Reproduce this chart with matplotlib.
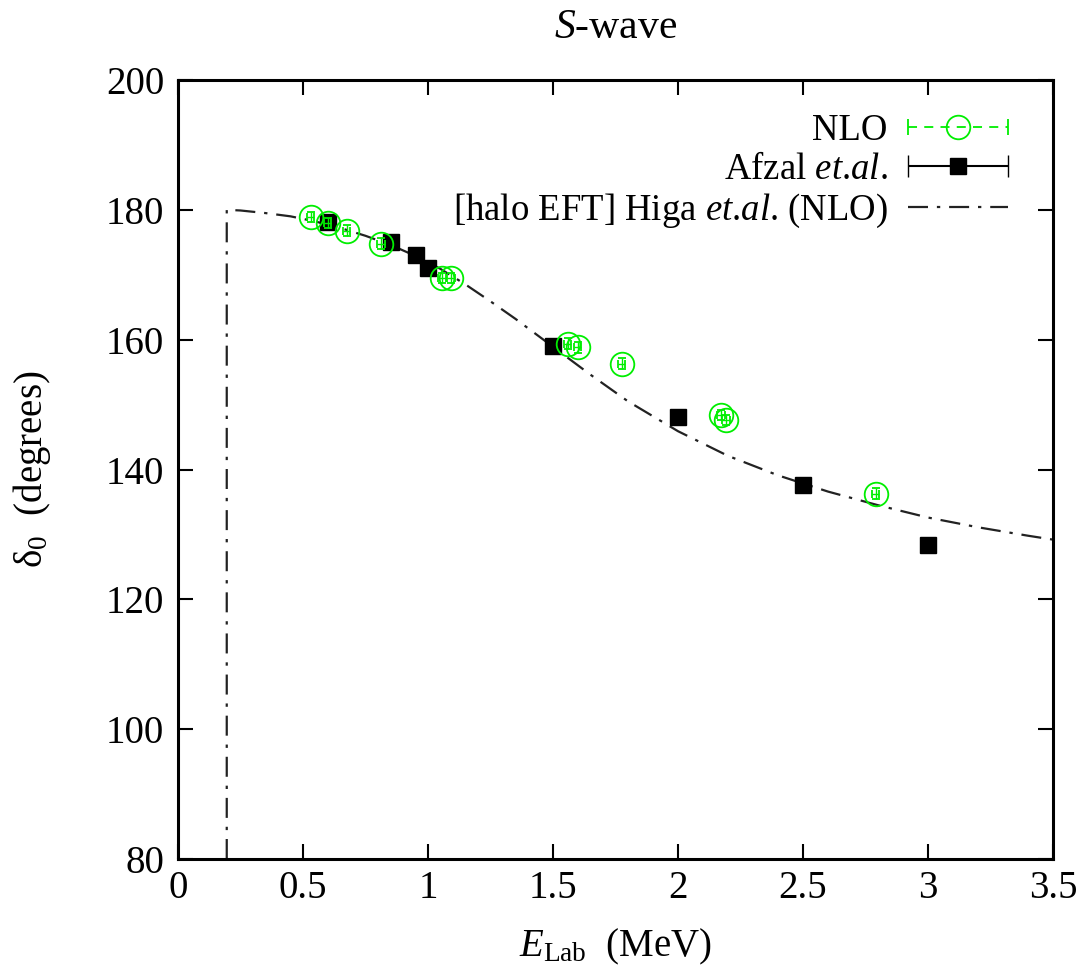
import numpy as np
import matplotlib
matplotlib.use("Agg")
import matplotlib.pyplot as plt
from matplotlib.legend_handler import HandlerErrorbar

plt.rcParams['font.family'] = ['Liberation Serif', 'DejaVu Serif']
plt.rcParams['mathtext.fontset'] = 'custom'
plt.rcParams['mathtext.rm'] = 'Liberation Serif'
plt.rcParams['mathtext.it'] = 'Liberation Serif:italic'
plt.rcParams['mathtext.bf'] = 'Liberation Serif:bold'

# NLO phase shifts
nlo_e = [0.53, 0.598, 0.674, 0.811, 1.056, 1.092, 1.558, 1.598, 1.774, 2.172, 2.192, 2.79]
nlo_d = [178.9, 178.0, 176.8, 174.8, 169.5, 169.5, 159.4, 158.8, 156.3, 148.4, 147.6, 136.3]
nlo_de = 0.015
nlo_dd = 0.8

# Afzal et al. data
afz_e = [0.6, 0.85, 0.95, 1.0, 1.5, 2.0, 2.5, 3.0]
afz_d = [178.2, 175.1, 173.1, 171.0, 159.1, 148.1, 137.6, 128.4]
afz_dd = 0.9

# Halo EFT curve (Higa et al., NLO)
eft_e = [0.195, 0.195, 0.25, 0.35, 0.45, 0.55, 0.65, 0.75, 0.85, 0.95, 1.05, 1.15,
         1.25, 1.35, 1.5, 1.65, 1.8, 2.0, 2.2, 2.4, 2.6, 2.8, 3.0, 3.2, 3.4, 3.5]
eft_d = [80.0, 180.0, 179.9, 179.5, 179.0, 178.2, 177.2, 176.0, 174.6, 172.9, 170.9, 168.5,
         165.9, 163.2, 158.9, 154.6, 150.5, 145.9, 142.1, 139.1, 136.6, 134.5, 132.6, 131.1, 129.8, 129.2]

xticks = [0, 0.5, 1, 1.5, 2, 2.5, 3, 3.5]
xticklabels = ['0', '0.5', '1', '1.5', '2', '2.5', '3', '3.5']
yticks = [80, 100, 120, 140, 160, 180, 200]

green = '#00ee00'
curve_col = '#222222'

fig = plt.figure(figsize=(10.85, 9.74), dpi=100)
ax = fig.add_axes([178 / 1085, 1 - 859 / 974, (1053 - 178) / 1085, (859 - 80) / 974])

# curve
ax.plot(eft_e, eft_d, color=curve_col, lw=1.6, dashes=(9, 4, 1.5, 4), zorder=2)

# NLO points
ax.errorbar(nlo_e, nlo_d, xerr=nlo_de, yerr=nlo_dd, fmt='o', ms=17, mfc='none',
            mec=green, mew=1.3, ecolor=green, elinewidth=1.0, capsize=3, capthick=1.0,
            zorder=4)

# Afzal points
ax.errorbar(afz_e, afz_d, yerr=afz_dd, fmt='s', ms=11, color='black', ecolor='black',
            elinewidth=1.5, capsize=6, capthick=1.5, zorder=3)

# legend proxies
h1 = ax.errorbar([np.nan], [np.nan], xerr=[0.1], fmt='o', ms=17, mfc='none', mec=green,
                 mew=1.3, ecolor=green, elinewidth=1.3, capsize=6, ls='none')
for c in h1[2]:
    c.set_linestyle((0, (5, 4)))
h2 = ax.errorbar([np.nan], [np.nan], xerr=[0.1], fmt='s', ms=11, color='black',
                 elinewidth=1.5, capsize=8, ls='none')
h3, = ax.plot([np.nan], [np.nan], color=curve_col, lw=1.6, dashes=(9, 4, 1.5, 4))

fs = 28
lfs = 26.5
hl = 100 / (lfs * 100 / 72)
leg = ax.legend([h1, h2, h3],
                ['NLO', 'Afzal $et$.$al$.', '[halo EFT] Higa $et$.$al$. (NLO)'],
                loc='upper right', bbox_to_anchor=(0.978, 0.99), frameon=False,
                markerfirst=False, fontsize=lfs, handlelength=hl, handletextpad=0.55,
                labelspacing=0.12, borderaxespad=0.3,
                handler_map={h1: HandlerErrorbar(xerr_size=hl / 2),
                             h2: HandlerErrorbar(xerr_size=hl / 2)})

ax.set_xlim(0, 3.5)
ax.set_ylim(80, 200)
ax.set_xticks(xticks)
ax.set_xticklabels(xticklabels)
ax.set_yticks(yticks)
ax.tick_params(direction='in', length=11, width=1.5, labelsize=fs, top=True, right=True)
ax.tick_params(axis='x', pad=8)
ax.tick_params(axis='y', pad=10)
for s in ax.spines.values():
    s.set_linewidth(2.2)

ax.set_title('$S$-wave', fontsize=30, pad=30)
ax.set_xlabel(r'$E_{\mathrm{Lab}}$  (MeV)', fontsize=fs, labelpad=14)
ax.set_ylabel('δ$_0$  (degrees)', fontsize=fs, labelpad=38)

fig.savefig('out.png', dpi=100)
